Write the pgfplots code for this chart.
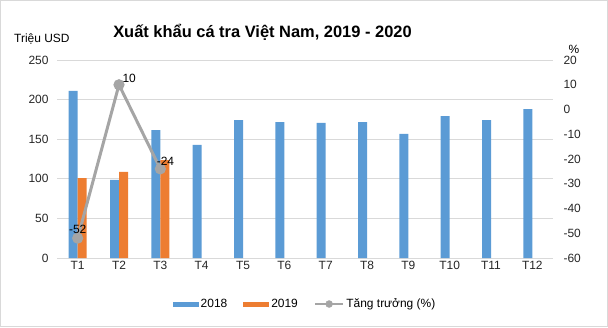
\documentclass[border=0pt]{standalone}
\usepackage{pgfplots}
\pgfplotsset{compat=1.18}
\usepackage{fontspec}
\setmainfont{Liberation Sans}
\definecolor{cblue}{HTML}{5B9BD5}
\definecolor{corange}{HTML}{ED7D31}
\definecolor{cgray}{HTML}{A5A5A5}
\definecolor{cgrid}{HTML}{D9D9D9}
\definecolor{ctext}{HTML}{262626}
\begin{document}
\begin{tikzpicture}[x=1bp,y=1bp]
\path[use as bounding box] (0,0) rectangle (608,327);
\draw[cgrid, line width=0.8bp] (0.5,0.5) rectangle (607.5,326.5);
\node[anchor=base, font=\fontsize{16.5}{19}\selectfont\bfseries] at (262.5,290) {Xuất khẩu cá tra Việt Nam, 2019 - 2020};
\node[anchor=base west, font=\fontsize{12}{14}\selectfont, inner sep=0] at (14,285) {Triệu USD};
\node[anchor=base, font=\fontsize{12}{14}\selectfont, inner sep=0] at (574,274) {\%};
\begin{axis}[
  at={(57bp,69bp)}, anchor=south west,
  scale only axis, width=496bp, height=198bp,
  xmin=0.5, xmax=12.5, ymin=0, ymax=250,
  ytick={0,50,...,250},
  xtick={1,...,12},
  xticklabels={T1,T2,T3,T4,T5,T6,T7,T8,T9,T10,T11,T12},
  ymajorgrids, grid style={cgrid, line width=0.8bp},
  axis x line*=bottom, axis y line*=left,
  x axis line style={cgrid, line width=0.8bp},
  y axis line style={draw=none},
  major tick length=0pt,
  tick style={draw=none},
  ticklabel style={font=\fontsize{12}{14}\selectfont, text=ctext},
  yticklabel style={xshift=-5bp},
  /pgf/number format/assume math mode=true,
  ybar=0pt, bar width=9bp,
  legend style={at={(0.5,0)}, anchor=center, yshift=-46bp, draw=none, fill=none,
    legend columns=3, font=\fontsize{12}{14}\selectfont,
    /tikz/every even column/.append style={column sep=14bp}},
  legend image code/.code={\fill[#1] (0bp,-2.5bp) rectangle (26bp,2.5bp);},
]
\addplot[fill=cblue, draw=none] coordinates {(1,211) (2,98.5) (3,161.5) (4,142.7) (5,174) (6,171.7) (7,170.5) (8,171.7) (9,156.6) (10,179) (11,174) (12,188)};
\addlegendentry{2018}
\addplot[fill=corange, draw=none] coordinates {(1,101) (2,108.6) (3,123.7)};
\addlegendentry{2019}
\addlegendimage{legend image code/.code={\draw[cgray, line width=2.5bp] (0bp,0bp) -- (28bp,0bp); \fill[cgray] (14bp,0bp) circle (3.5bp);}}
\addlegendentry{Tăng trưởng (\%)}
\end{axis}
\begin{axis}[
  at={(57bp,69bp)}, anchor=south west,
  scale only axis, width=496bp, height=198bp,
  xmin=0.5, xmax=12.5, ymin=-60, ymax=20,
  ytick={-60,-50,...,20},
  axis x line=none,
  axis y line*=right,
  y axis line style={draw=none},
  major tick length=0pt, tick style={draw=none},
  ticklabel style={font=\fontsize{12}{14}\selectfont, text=ctext},
  /pgf/number format/assume math mode=true,
  yticklabel style={xshift=7bp},
]
\addplot[cgray, line width=3bp, mark=*, mark size=4bp, mark options={fill=cgray, draw=cgray}] coordinates {(1,-52) (2,10) (3,-24)};
\addplot[draw=none, mark=none, nodes near coords, point meta=explicit symbolic,
  nodes near coords style={anchor=south, font=\fontsize{12}{14}\selectfont, text=black, yshift=1bp}] coordinates {(1,-52) [-52]};
\addplot[draw=none, mark=none, nodes near coords, point meta=explicit symbolic,
  nodes near coords style={anchor=south west, font=\fontsize{12}{14}\selectfont, text=black, xshift=0bp, yshift=-1bp}] coordinates {(2,10) [10]};
\addplot[draw=none, mark=none, nodes near coords, point meta=explicit symbolic,
  nodes near coords style={anchor=south west, font=\fontsize{12}{14}\selectfont, text=black, xshift=-7bp, yshift=0bp}] coordinates {(3,-24) [-24]};
\end{axis}
\end{tikzpicture}
\end{document}
